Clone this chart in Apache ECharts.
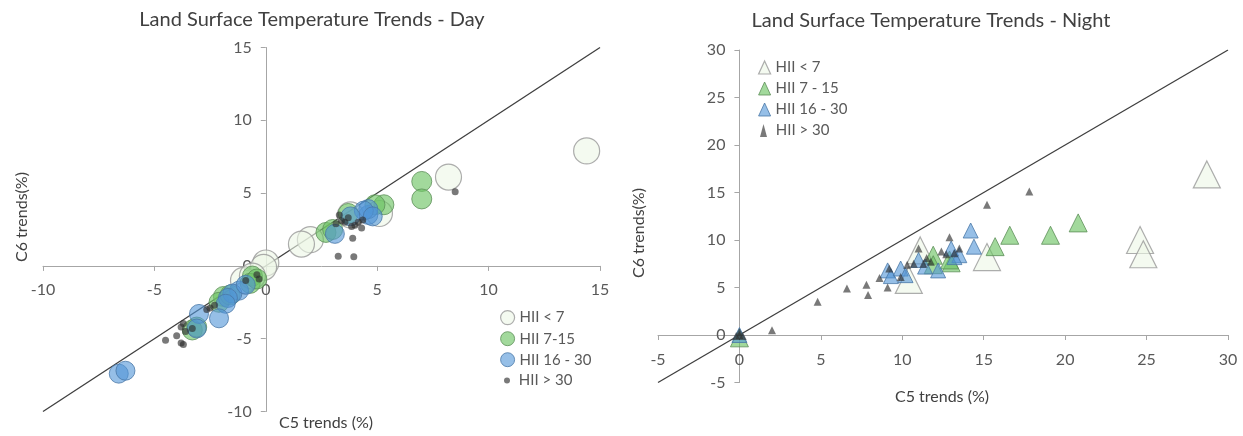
<!DOCTYPE html>
<html>
<head>
<meta charset="utf-8">
<title>Land Surface Temperature Trends</title>
<script src="https://cdn.jsdelivr.net/npm/echarts@6/dist/echarts.min.js"></script>
<style>
html, body { margin: 0; padding: 0; background: #fff; }
#main { width: 1243px; height: 436px; }
</style>
</head>
<body>
<div id="main"></div>
<script>
// Day panel: [C5 trend, C6 trend] in %
var dayHII7 = [[14.4, 7.9], [8.2, 6.1], [2.0, 1.8], [1.6, 1.5], [5.1, 3.6], [3.8, 3.5],
	[0.0, 0.2], [-0.1, -0.1], [-1.0, -1.0], [-0.6, -0.7]];
var dayHII7to15 = [[7.0, 5.8], [7.0, 4.6], [5.3, 4.2], [4.9, 4.2], [2.7, 2.3], [3.0, 2.5],
	[3.7, 3.6], [-0.6, -0.7], [-0.7, -1.2], [-0.4, -0.9], [-1.9, -2.1], [-2.1, -2.5],
	[-1.6, -2.0], [-3.3, -4.4], [-3.1, -4.2]];
var dayHII16to30 = [[4.6, 3.5], [4.6, 3.9], [4.4, 3.8], [4.8, 3.4], [3.1, 2.2], [3.8, 3.4],
	[-1.2, -1.7], [-1.5, -1.9], [-1.7, -2.2], [-1.8, -2.6], [-2.1, -3.6], [-3.0, -3.3],
	[-3.1, -4.3], [-6.6, -7.4], [-6.3, -7.2], [-0.9, -1.3]];
var dayHII30 = [[8.5, 5.1], [3.25, 0.67], [3.95, 0.62], [3.9, 1.9], [3.3, 3.5], [3.55, 3.0],
	[3.85, 2.7], [4.0, 2.8], [4.15, 3.0], [4.3, 2.6], [4.35, 3.15], [3.15, 2.9], [3.7, 3.3],
	[3.4, 3.1], [-4.5, -5.1], [-4.0, -4.8], [-3.8, -5.3], [-3.7, -5.4], [-3.8, -4.2],
	[-3.7, -3.95], [-2.65, -3.0], [-2.5, -2.9], [-0.9, -1.0], [-0.4, -0.6], [-0.3, -0.9],
	[-2.3, -2.7], [-3.3, -4.3], [-3.6, -4.5]];
var dayOneToOne = [[-10, -10], [15, 15]];

// Night panel: [C5 trend, C6 trend] in %
var nightHII7 = [[28.7, 16.9], [24.6, 10.0], [24.8, 8.5], [15.2, 8.2], [11.1, 8.9], [10.4, 5.8]];
var nightHII7to15 = [[20.8, 11.8], [19.1, 10.5], [16.6, 10.5], [15.7, 9.3], [11.9, 8.4],
	[11.9, 7.4], [13.0, 7.6], [12.9, 7.9], [0.0, -0.3]];
var nightHII16to30 = [[14.2, 11.0], [14.4, 9.3], [13.0, 9.1], [13.5, 8.4], [13.2, 8.2],
	[12.2, 6.8], [11.4, 7.2], [9.1, 6.8], [9.3, 6.2], [9.9, 7.0], [10.2, 6.3], [11.0, 7.9],
	[0.0, 0.0]];
var nightHII30 = [[2.0, 0.5], [4.8, 3.5], [6.6, 4.9], [7.8, 5.3], [7.9, 4.2], [8.6, 6.0],
	[9.1, 5.0], [9.2, 7.0], [9.9, 6.1], [10.3, 7.4], [10.7, 7.5], [11.3, 7.5], [11.75, 7.7],
	[11.5, 8.1], [11.0, 9.1], [12.4, 8.8], [12.9, 10.3], [13.5, 9.1], [15.2, 13.7],
	[17.8, 15.1], [12.7, 8.5], [13.2, 8.6], [0.0, 0.0], [0.0, 0.3], [-0.2, -0.1], [0.2, -0.1]];
var nightOneToOne = [[-5, -5], [30, 30]];

var dayNames = ['HII < 7', 'HII 7-15', 'HII 16 - 30', 'HII > 30'];
var nightNames = ['HII < 7', 'HII 7 - 15', 'HII 16 - 30', 'HII > 30'];
var dayRange = [-10, 15];
var nightRange = [-5, 30];
var tickStep = 5;

var myChart;
var fontName = 'Lato';
var labelColor = '#595959';
var axisColor = '#a6a6a6';

// grid boxes in px: [left, top, width, height]
var dayBox = [43, 47.5, 557, 364];
var nightBox = [658, 50, 570, 332.5];

// marker styles, one per HII class
var styles = [
	{ color: 'rgba(236,246,230,0.75)', borderColor: '#999999', borderWidth: 1.2 },
	{ color: 'rgba(110,195,100,0.8)', borderColor: '#5c8f58', borderWidth: 1 },
	{ color: 'rgba(80,148,215,0.75)', borderColor: '#4a78a8', borderWidth: 1 },
	{ color: 'rgba(45,45,45,0.8)', borderColor: 'rgba(45,45,45,0.8)', borderWidth: 0 }
];

window.onload = function() {
	myChart = echarts.init(document.getElementById('main'));
	myChart.setOption(buildOption());
};

// axes cross at zero: shift the whole axis (line + labels) by an offset
function makeAxis(range, grid, offset, margin) {
	return {
		type: 'value',
		gridIndex: grid,
		min: range[0],
		max: range[1],
		interval: tickStep,
		offset: offset,
		splitLine: { show: false },
		axisLine: { onZero: false, lineStyle: { color: axisColor, width: 1 } },
		axisTick: { show: true, length: 5, lineStyle: { color: axisColor } },
		axisLabel: { color: labelColor, fontFamily: fontName, fontSize: 16, margin: margin }
	};
}

function zeroOffsetX(range, box) {
	// distance of x = 0 from the left edge of the grid
	return -box[2] * (0 - range[0]) / (range[1] - range[0]);
}

function zeroOffsetY(range, box) {
	// distance of y = 0 from the bottom edge of the grid
	return -box[3] * (0 - range[0]) / (range[1] - range[0]);
}

function scatter(name, data, grid, symbol, size, style) {
	return {
		name: name,
		type: 'scatter',
		xAxisIndex: grid,
		yAxisIndex: grid,
		symbol: symbol,
		symbolSize: size,
		data: data,
		itemStyle: style,
		emphasis: { disabled: true }
	};
}

function refLine(data, grid) {
	return {
		type: 'line',
		xAxisIndex: grid,
		yAxisIndex: grid,
		data: data,
		symbol: 'none',
		silent: true,
		lineStyle: { color: '#3f3f3f', width: 1.3 },
		z: 1
	};
}

function legendItems(names, icon) {
	var out = [];
	for (var i = 0; i < names.length; i++) {
		out.push({ name: names[i], icon: icon, itemStyle: styles[i] });
	}
	return out;
}

function text(str, x, y, size, rot) {
	return {
		type: 'text',
		x: x,
		y: y,
		rotation: rot || 0,
		style: {
			text: str,
			fill: '#404040',
			font: size + 'px ' + fontName,
			align: 'center',
			verticalAlign: 'middle'
		}
	};
}

function buildOption() {
	var dayItems = legendItems(dayNames, 'circle');
	var nightItems = legendItems(nightNames, 'triangle');
	var legendText = { color: labelColor, fontFamily: fontName, fontSize: 15 };
	return {
		animation: false,
		grid: [
			{ left: dayBox[0], top: dayBox[1], width: dayBox[2], height: dayBox[3] },
			{ left: nightBox[0], top: nightBox[1], width: nightBox[2], height: nightBox[3] }
		],
		xAxis: [
			makeAxis(dayRange, 0, zeroOffsetY(dayRange, dayBox), 16),
			makeAxis(nightRange, 1, zeroOffsetY(nightRange, nightBox), 17)
		],
		yAxis: [
			makeAxis(dayRange, 0, zeroOffsetX(dayRange, dayBox), 14),
			makeAxis(nightRange, 1, zeroOffsetX(nightRange, nightBox), 14)
		],
		legend: [
			{ orient: 'vertical', left: 495, top: 305, itemWidth: 14, itemHeight: 14, itemGap: 6,
				data: dayItems.slice(0, 3), textStyle: legendText, selectedMode: false },
			{ orient: 'vertical', left: 499, top: 368, itemWidth: 6, itemHeight: 14,
				data: dayItems.slice(3), textStyle: legendText, selectedMode: false,
				formatter: function(n) { return ' ' + n; } },
			{ orient: 'vertical', left: 753, top: 55, itemWidth: 12, itemHeight: 13, itemGap: 6,
				data: nightItems.slice(0, 3), textStyle: legendText, selectedMode: false },
			{ orient: 'vertical', left: 755, top: 118, itemWidth: 7, itemHeight: 13,
				data: nightItems.slice(3), textStyle: legendText, selectedMode: false,
				formatter: function(n) { return ' ' + n; } }
		],
		graphic: [
			text('Land Surface Temperature Trends - Day', 312, 20, 20),
			text('Land Surface Temperature Trends - Night', 931, 21, 20),
			text('C6 trends(%)', 22, 217, 16, Math.PI / 2),
			text('C5 trends (%)', 326, 423, 16),
			text('C6 trends(%)', 639, 233, 16, Math.PI / 2),
			text('C5 trends (%)', 942, 397, 16)
		],
		series: [
			refLine(dayOneToOne, 0),
			scatter(dayNames[0], dayHII7, 0, 'circle', 26, styles[0]),
			scatter(dayNames[1], dayHII7to15, 0, 'circle', 20, styles[1]),
			scatter(dayNames[2], dayHII16to30, 0, 'circle', 19, styles[2]),
			scatter(dayNames[3], dayHII30, 0, 'circle', 7, styles[3]),
			refLine(nightOneToOne, 1),
			scatter(nightNames[0], nightHII7, 1, 'triangle', 27, styles[0]),
			scatter(nightNames[1], nightHII7to15, 1, 'triangle', 18, styles[1]),
			scatter(nightNames[2], nightHII16to30, 1, 'triangle', 15, styles[2]),
			scatter(nightNames[3], nightHII30, 1, 'triangle', 8, styles[3])
		]
	};
}
</script>
</body>
</html>
